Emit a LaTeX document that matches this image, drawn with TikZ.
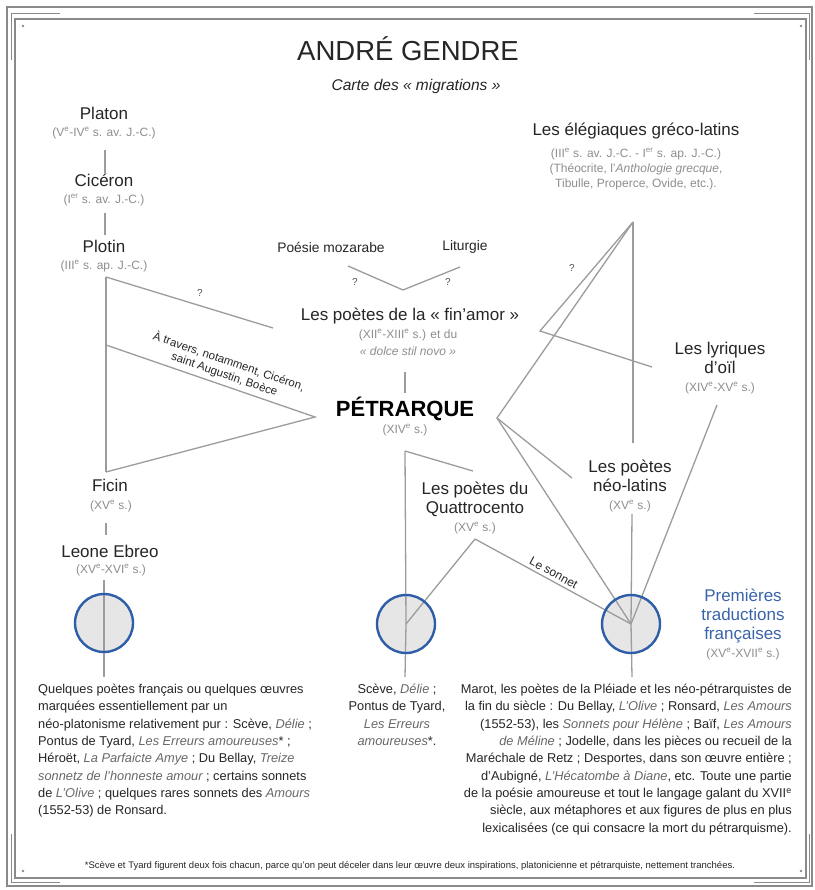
\documentclass[tikz,border=0pt]{standalone}
\usepackage{fontspec}
\setmainfont{Liberation Sans}
\definecolor{lnc}{HTML}{9C9C9C}
\definecolor{ring}{HTML}{2F5EA8}
\definecolor{subc}{HTML}{8E8E8E}
\definecolor{txt}{HTML}{262626}
\definecolor{bluet}{HTML}{3A64AA}
\definecolor{cfill}{HTML}{E6E6E6}
\definecolor{framec}{HTML}{8A8A8A}
\newcommand{\supe}{\textsuperscript{e}}
\newcommand{\itx}[1]{{\itshape\color{txt!70}#1}}
\begin{document}
\begin{tikzpicture}[x=1pt,y=-1pt,
  nm/.style={font=\fontsize{17}{19}\selectfont, text=txt, align=center, inner sep=0pt},
  sb/.style={font=\fontsize{12}{15}\selectfont, text=subc, align=center, inner sep=0pt},
  link/.style={draw=lnc, line width=1.3pt},
  qm/.style={font=\fontsize{10}{12}\selectfont, text=txt!80, inner sep=0pt},
  lab/.style={font=\fontsize{11.5}{13.5}\selectfont, text=txt, align=center, inner sep=0pt},
  body/.style={font=\fontsize{12.8}{17.3}\selectfont, text=txt, inner sep=0pt},
  framel/.style={draw=framec, line width=1.2pt},
  circring/.style={draw=ring, line width=2.4pt}
]
\useasboundingbox (0,0) rectangle (814,890);
\fill[white] (0,0) rectangle (814,890);
% frame
\draw[framel] (7,7) rectangle (812,886);
\draw[framel] (15,19) rectangle (806,878);
\draw[framec, line width=0.8pt] (11,60) -- (11,13) -- (60,13);
\draw[framec, line width=0.8pt] (754,13) -- (809,13) -- (809,60);
\draw[framec, line width=0.8pt] (11,834) -- (11,882) -- (60,882);
\draw[framec, line width=0.8pt] (754,882) -- (809,882) -- (809,834);
\fill[framec] (23,26) circle (1.3) (801,26) circle (1.3) (23,871) circle (1.3) (801,871) circle (1.3);

% title
\node[font=\fontsize{27.5}{28}\selectfont, text=txt, inner sep=0pt] (title) at (408,49) {ANDRÉ GENDRE};
\node[font=\fontsize{15.5}{16}\selectfont\itshape, text=txt, inner sep=0pt] (stitle) at (416,86) {Carte des «~migrations~»};

% left column
\node[nm] (platon) at (104,113) {Platon};
\node[sb] (platonS) at (104,133) {(V\supe-IV\supe\ s. av. J.-C.)};
\node[nm] (ciceron) at (104,180) {Cicéron};
\node[sb] (ciceronS) at (104,200) {(I\textsuperscript{er} s. av. J.-C.)};
\node[nm] (plotin) at (104,246) {Plotin};
\node[sb] (plotinS) at (104,266) {(III\supe\ s. ap. J.-C.)};
\node[nm] (ficin) at (110,485) {Ficin};
\node[sb] (ficinS) at (111,506) {(XV\supe\ s.)};
\node[nm] (leone) at (110,551) {Leone Ebreo};
\node[sb] (leoneS) at (111,570) {(XV\supe-XVI\supe\ s.)};

% centre
\node[font=\fontsize{13.8}{14}\selectfont, text=txt, inner sep=0pt] (mozarabe) at (331,247) {Poésie mozarabe};
\node[font=\fontsize{13.8}{14}\selectfont, text=txt, inner sep=0pt] (liturgie) at (465,247) {Liturgie};
\node[nm] (finamor) at (410,316) {Les poètes de la «~fin’amor~»};
\node[sb] (finS1) at (408,335) {(XII\supe-XIII\supe\ s.) et du};
\node[sb] (finS2) at (408,351) {\itshape «~dolce stil novo~»};
\node[font=\bfseries\fontsize{22}{22}\selectfont, text=black, inner sep=0pt] (petrarque) at (405,409) {PÉTRARQUE};
\node[sb] (petS) at (405,430) {(XIV\supe\ s.)};
\node[nm] (quattro) at (475,499) {Les poètes du\\Quattrocento};
\node[sb] (quatS) at (475,528) {(XV\supe\ s.)};

% right
\node[nm] (eleg) at (636,131) {Les élégiaques gréco-latins};
\node[sb] (elegS) at (636,169) {(III\supe\ s. av. J.-C. - I\textsuperscript{er} s. ap. J.-C.)\\(Théocrite, l’\textit{Anthologie grecque},\\Tibulle, Properce, Ovide, etc.).};
\node[nm] (lyriques) at (720,358) {Les lyriques\\d’oïl};
\node[sb] (lyrS) at (720,388) {(XIV\supe-XV\supe\ s.)};
\node[nm] (neolatins) at (630,476) {Les poètes\\néo-latins};
\node[sb] (neoS) at (630,506) {(XV\supe\ s.)};
\node[nm, text=bluet] (premieres) at (743,616) {Premières\\traductions\\françaises};
\node[sb] (premS) at (743,654) {(XV\supe-XVII\supe\ s.)};

% junction coordinates
\coordinate (a1) at (105,150); \coordinate (a2) at (105,173);
\coordinate (b1) at (105,213); \coordinate (b2) at (105,235);
\coordinate (plotTop) at (106,277); \coordinate (triMid) at (106,345);
\coordinate (triTip) at (315,417); \coordinate (triBot) at (106,472);
\coordinate (qEnd) at (273,328);
\coordinate (f1) at (106,523); \coordinate (f2) at (106,535);
\coordinate (l1) at (104,580); \coordinate (l2) at (104,677);
\coordinate (mozA) at (348,266); \coordinate (junc) at (403,290); \coordinate (litA) at (460,267);
\coordinate (g1) at (405,372); \coordinate (g2) at (405,393);
\coordinate (petB) at (405,451); \coordinate (quatA) at (473,471); \coordinate (m2) at (405,677);
\coordinate (quatB) at (475,539);
\coordinate (apex) at (633,222); \coordinate (apexB) at (633,443);
\coordinate (r1) at (632,514); \coordinate (r2) at (632,677);
\coordinate (finR) at (540,331); \coordinate (lyrA) at (652,367);
\coordinate (petR) at (497,418); \coordinate (neoA) at (572,478);
\coordinate (lyrB) at (717,405);
\coordinate (cL) at (104,623); \coordinate (cM) at (406,624); \coordinate (cR) at (631,624);

% circle fills
\fill[cfill] (cL) circle (29) (cM) circle (29) (cR) circle (29);

% links
\draw[link] (a1) -- (a2);
\draw[link] (b1) -- (b2);
\draw[link] (plotTop) -- (triBot);
\draw[link] (plotTop) -- (qEnd);
\draw[link] (triMid) -- node[lab, sloped, above=4pt, pos=0.55] (atravers) {À travers, notamment, Cicéron,\\saint Augustin, Boèce} (triTip) -- (triBot);
\draw[link] (f1) -- (f2);
\draw[link] (l1) -- (cL) -- (l2);
\draw[link] (mozA) -- (junc) -- (litA);
\draw[link] (g1) -- (g2);
\draw[link] (petB) -- (quatA);
\draw[link] (petB) -- (cM) -- (m2);
\draw[link] (quatB) -- (cM);
\draw[link] (quatB) -- node[lab, font=\fontsize{12}{13}\selectfont, sloped, above=3pt, pos=0.48] (sonnet) {Le sonnet} (cR);
\draw[link] (apex) -- (apexB);
\draw[link] (r1) -- (cR) -- (r2);
\draw[link] (apex) -- (finR) -- (lyrA);
\draw[link] (apex) -- (petR) -- (neoA);
\draw[link] (petR) -- (cR);
\draw[link] (lyrB) -- (cR);

% question marks
\node[qm] (q1) at (200,293) {?};
\node[qm] (q2) at (355,282) {?};
\node[qm] (q3) at (448,282) {?};
\node[qm] (q4) at (572,268) {?};

% circle rings
\draw[circring] (cL) circle (29) (cM) circle (29) (cR) circle (29);

% text blocks
\node[body, align=left, anchor=north west] (blockL) at (38,684) {Quelques poètes français ou quelques œuvres\\
marquées essentiellement par un\\
néo-platonisme relativement pur : Scève, \itx{Délie} ;\\
Pontus de Tyard, \itx{Les Erreurs amoureuses}* ;\\
Héroët, \itx{La Parfaicte Amye} ; Du Bellay, \itx{Treize}\\
\itx{sonnetz de l’honneste amour} ; certains sonnets\\
de \itx{L’Olive} ; quelques rares sonnets des \itx{Amours}\\
(1552-53) de Ronsard.};
\node[body, align=center, anchor=north] (blockM) at (397,684) {Scève, \itx{Délie} ;\\
Pontus de Tyard,\\
\itx{Les Erreurs}\\
\itx{amoureuses}*.};
\node[body, align=right, anchor=north east] (blockR) at (792,684) {Marot, les poètes de la Pléiade et les néo-pétrarquistes de\\
la fin du siècle : Du Bellay, \itx{L’Olive} ; Ronsard, \itx{Les Amours}\\
(1552-53), les \itx{Sonnets pour Hélène} ; Baïf, \itx{Les Amours}\\
\itx{de Méline} ; Jodelle, dans les pièces ou recueil de la\\
Maréchale de Retz ; Desportes, dans son œuvre entière ;\\
d’Aubigné, \itx{L’Hécatombe à Diane}, etc. Toute une partie\\
de la poésie amoureuse et tout le langage galant du XVII\supe\\
siècle, aux métaphores et aux figures de plus en plus\\
lexicalisées (ce qui consacre la mort du pétrarquisme).};

\node[font=\fontsize{9.5}{11}\selectfont, text=txt, inner sep=0pt] (note) at (410,866) {*Scève et Tyard figurent deux fois chacun, parce qu’on peut déceler dans leur œuvre deux inspirations, platonicienne et pétrarquiste, nettement tranchées.};
\end{tikzpicture}
\end{document}
